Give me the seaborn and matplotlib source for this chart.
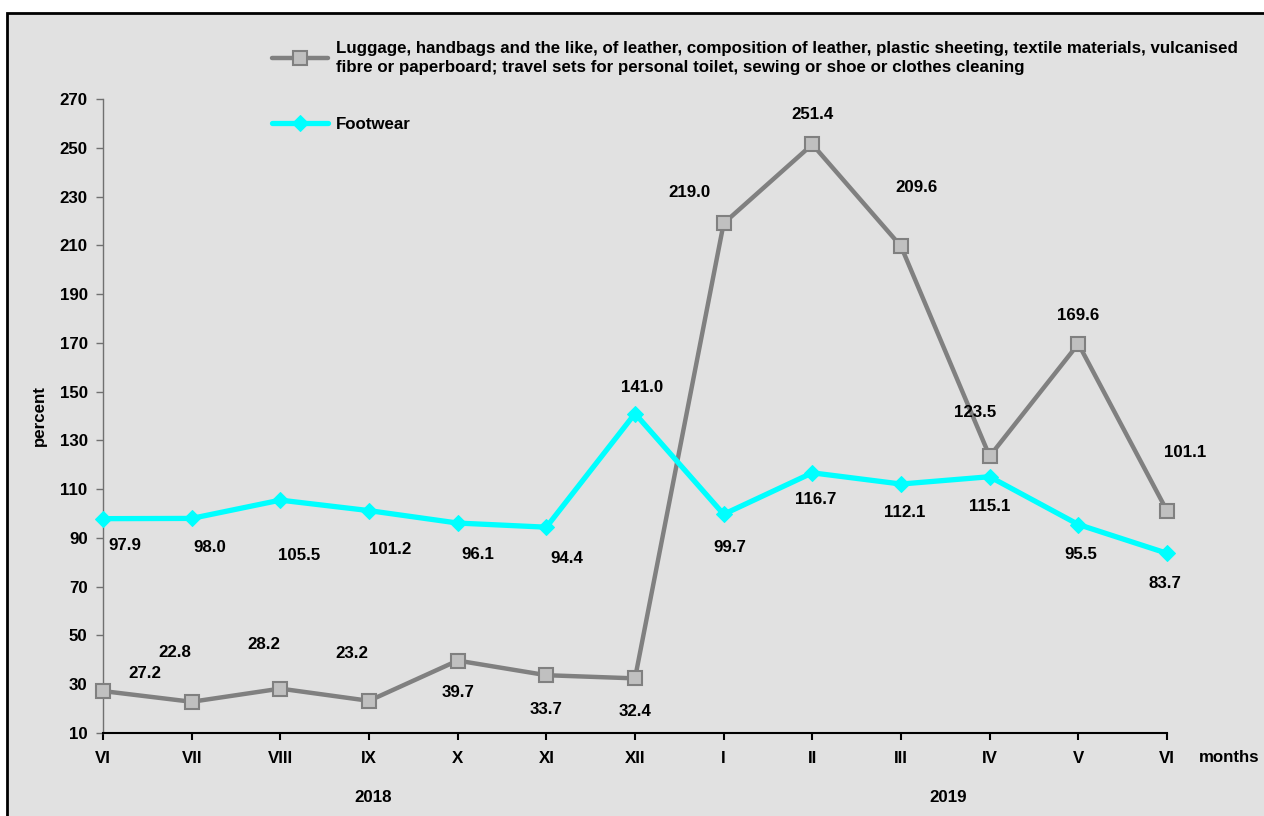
import matplotlib
matplotlib.use("Agg")
import matplotlib.pyplot as plt
import seaborn as sns
import pandas as pd
from matplotlib.patches import Rectangle

months = ["VI", "VII", "VIII", "IX", "X", "XI", "XII", "I", "II", "III", "IV", "V", "VI"]
luggage = [27.2, 22.8, 28.2, 23.2, 39.7, 33.7, 32.4, 219.0, 251.4, 209.6, 123.5, 169.6, 101.1]
footwear = [97.9, 98.0, 105.5, 101.2, 96.1, 94.4, 141.0, 99.7, 116.7, 112.1, 115.1, 95.5, 83.7]
yticks = list(range(10, 271, 20))

luggage_name = ("Luggage, handbags and the like, of leather, composition of leather, plastic sheeting, "
                "textile materials, vulcanised\nfibre or paperboard; travel sets for personal toilet, "
                "sewing or shoe or clothes cleaning")
footwear_name = "Footwear"

# label offsets in pixels (dx, dy), layout only
lug_off = [(42, 18), (-17, 49), (-17, 44), (-17, 47), (0, -32), (0, -34), (0, -33),
           (-34, 31), (0, 30), (16, 59), (-15, 44), (0, 28), (18, 58)]
foot_off = [(22, -27), (18, -29), (19, -55), (21, -39), (20, -31), (20, -31), (7, 26),
            (6, -33), (3, -27), (4, -28), (0, -30), (2, -30), (-2, -30)]

FS = 12.2

df = pd.DataFrame({"x": range(len(months)), "luggage": luggage, "footwear": footwear})

sns.set_theme(style="white")
plt.rcParams["font.family"] = ["Liberation Sans", "DejaVu Sans"]
plt.rcParams["font.weight"] = "bold"
plt.rcParams["text.color"] = "black"
plt.rcParams["xtick.color"] = "black"
plt.rcParams["ytick.color"] = "black"
plt.rcParams["axes.labelcolor"] = "black"

fig = plt.figure(figsize=(12.64, 8.16), dpi=100)
fig.patch.set_facecolor("white")
fig.patches.append(Rectangle((7 / 1264, -0.02), 1.05, 1 - 13 / 816 + 0.02,
                             transform=fig.transFigure, facecolor="#e1e1e1",
                             edgecolor="black", linewidth=2, zorder=-5))
ax = fig.add_axes([103 / 1264, 83 / 816, 1064 / 1264, 634 / 816])
ax.set_facecolor("none")
ax.set_zorder(2)

sns.lineplot(data=df, x="x", y="luggage", ax=ax, color="#808080", linewidth=3.2,
             marker="s", markersize=10, markerfacecolor="#c0c0c0", markeredgecolor="#808080",
             markeredgewidth=1.5, label=luggage_name, clip_on=False, zorder=3)
sns.lineplot(data=df, x="x", y="footwear", ax=ax, color="#00ffff", linewidth=3.8,
             marker="D", markersize=8, markerfacecolor="#00ffff", markeredgecolor="#00ffff",
             label=footwear_name, clip_on=False, zorder=4)

k = 0.72
for i, v in enumerate(luggage):
    ax.annotate(f"{v:.1f}", (i, v), xytext=(lug_off[i][0] * k, lug_off[i][1] * k),
                textcoords="offset points", ha="center", va="center",
                fontsize=FS, fontweight="bold")
for i, v in enumerate(footwear):
    ax.annotate(f"{v:.1f}", (i, v), xytext=(foot_off[i][0] * k, foot_off[i][1] * k),
                textcoords="offset points", ha="center", va="center",
                fontsize=FS, fontweight="bold")

ax.set_xlim(0, len(months) - 1)
ax.set_ylim(10, 270)
ax.set_xticks(range(len(months)))
ax.set_xticklabels(months, fontsize=FS, fontweight="bold")
ax.set_yticks(yticks)
ax.set_yticklabels([str(t) for t in yticks], fontsize=FS, fontweight="bold")
ax.tick_params(axis="x", direction="out", length=5, width=1.5, color="black", pad=8)
ax.tick_params(axis="y", direction="out", length=5, width=1, color="#707070", pad=6)
ax.tick_params(left=True, bottom=True)
sns.despine(ax=ax)
ax.spines["left"].set_color("#707070")
ax.spines["left"].set_linewidth(1)
ax.spines["bottom"].set_color("black")
ax.spines["bottom"].set_linewidth(1.5)
ax.set_xlabel("")
ax.set_ylabel("percent", fontsize=FS, fontweight="bold", labelpad=9)

fig.text(1229 / 1264, 1 - 757 / 816, "months", ha="center", va="center", fontsize=FS, fontweight="bold")
fig.text(373 / 1264, 1 - 797 / 816, "2018", ha="center", va="center", fontsize=FS, fontweight="bold")
fig.text(948 / 1264, 1 - 797 / 816, "2019", ha="center", va="center", fontsize=FS, fontweight="bold")

leg = ax.legend(loc="upper left", bbox_to_anchor=(265 / 1264, 1 - 34 / 816),
                bbox_transform=fig.transFigure, frameon=False, handlelength=3.3,
                handletextpad=0.5, labelspacing=2.5, borderaxespad=0,
                prop={"weight": "bold", "size": FS})
for t in leg.get_texts():
    t.set_linespacing(1.35)

fig.savefig("out.png", dpi=100)
